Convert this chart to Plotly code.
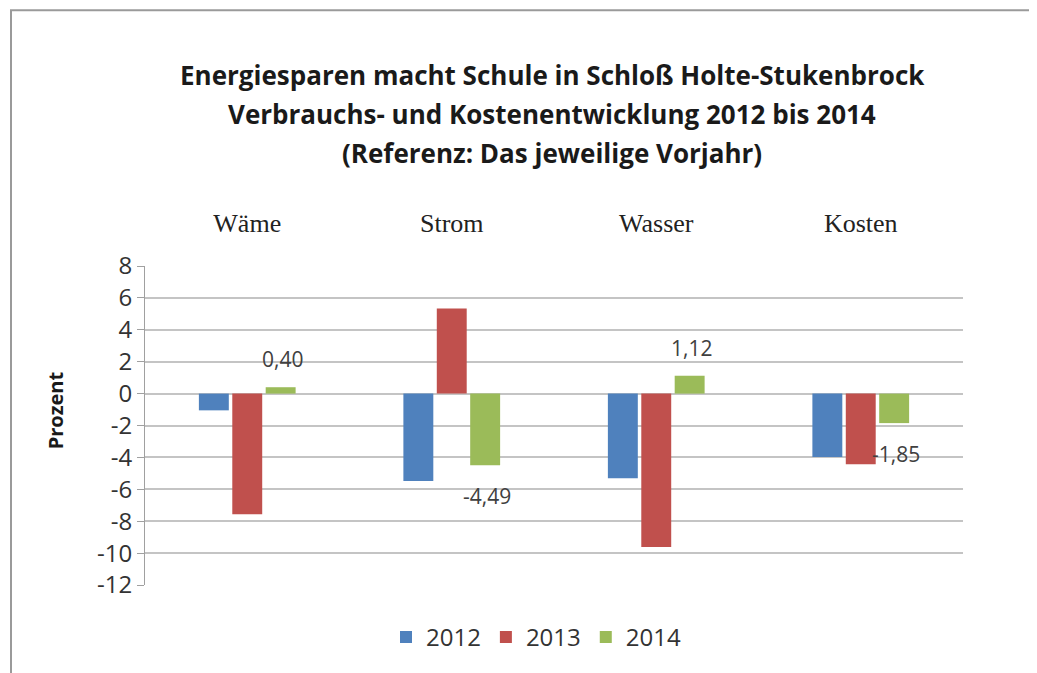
import plotly.graph_objects as go

categories = ["Wäme", "Strom", "Wasser", "Kosten"]
years = ["2012", "2013", "2014"]
v2012 = [-1.05, -5.48, -5.31, -3.97]
v2013 = [-7.57, 5.33, -9.62, -4.43]
v2014 = [0.40, -4.49, 1.12, -1.85]
colors = ["#4F81BD", "#C0504D", "#9BBB59"]
title_lines = [
    "Energiesparen macht Schule in Schloß Holte-Stukenbrock",
    "Verbrauchs- und Kostenentwicklung 2012 bis 2014",
    "(Referenz: Das jeweilige Vorjahr)",
]
y_ticks = list(range(-12, 9, 2))

OFF = 8  # browser body margin
W, H = 1037 - OFF, 673 - OFF
L, R, T, B = 145 - OFF, 963 - OFF, 265.7 - OFF, 584.7 - OFF
bargap = 0.51

fig = go.Figure()
for name, vals, col in zip(years, [v2012, v2013, v2014], colors):
    fig.add_trace(go.Bar(x=categories, y=vals, name=name, marker_color=col,
                         marker_line_width=0))

def px_x(p):
    return (p - OFF - L) / (R - L)

def px_y(p):
    return (B - (p - OFF)) / (B - T)

annotations = []
for i, v in enumerate(v2014):
    annotations.append(dict(
        x=i + (1 - bargap) / 3, y=v, xref="x", yref="y",
        text=f"{v:.2f}".replace(".", ","), showarrow=False,
        yshift=28 if v > 0 else -31, xshift=2,
        font=dict(family="Open Sans", size=21, color="#404040"),
    ))
for line, ypx in zip(title_lines, [75, 114, 153]):
    annotations.append(dict(
        x=px_x(552), y=px_y(ypx), xref="paper", yref="paper",
        text=f"<b>{line}</b>", showarrow=False, xanchor="center", yanchor="middle",
        font=dict(family="Open Sans", size=26, color="#1a1a1a"),
    ))
annotations.append(dict(
    x=px_x(55), y=px_y(410), xref="paper", yref="paper", text="<b>Prozent</b>",
    textangle=-90, showarrow=False, xanchor="center", yanchor="middle",
    font=dict(family="Open Sans", size=20, color="#1a1a1a"),
))

fig.update_layout(
    width=W, height=H,
    margin=dict(l=L, r=W - R, t=T, b=H - B, pad=0),
    paper_bgcolor="white", plot_bgcolor="white",
    barmode="group", bargap=bargap, bargroupgap=0.104,
    showlegend=True,
    legend=dict(orientation="h", x=px_x(536), y=px_y(637), xanchor="center",
                yanchor="middle", font=dict(family="Open Sans", size=24, color="#333333"),
                itemwidth=30, tracegroupgap=0),
    annotations=annotations,
    shapes=[dict(type="rect", xref="paper", yref="paper",
                 x0=px_x(11), x1=px_x(1035), y0=px_y(700), y1=px_y(10),
                 line=dict(color="#9a9a9a", width=2), fillcolor="rgba(0,0,0,0)")],
    xaxis=dict(side="top", showgrid=False, showline=False, ticks="",
               tickfont=dict(family="Liberation Serif", size=26, color="#222222"),
               ticklabelstandoff=28),
    yaxis=dict(range=[-12, 8], tickvals=y_ticks, ticktext=[str(t) for t in y_ticks],
               showgrid=True, gridcolor="#c4c4c4", gridwidth=1.5,
               zeroline=True, zerolinecolor="#c4c4c4", zerolinewidth=1.5,
               showline=True, linecolor="#a0a0a0", linewidth=1,
               ticks="outside", ticklen=7, tickcolor="#a0a0a0",
               tickfont=dict(family="Open Sans", size=24, color="#333333")),
)

fig.write_html("out.html")
